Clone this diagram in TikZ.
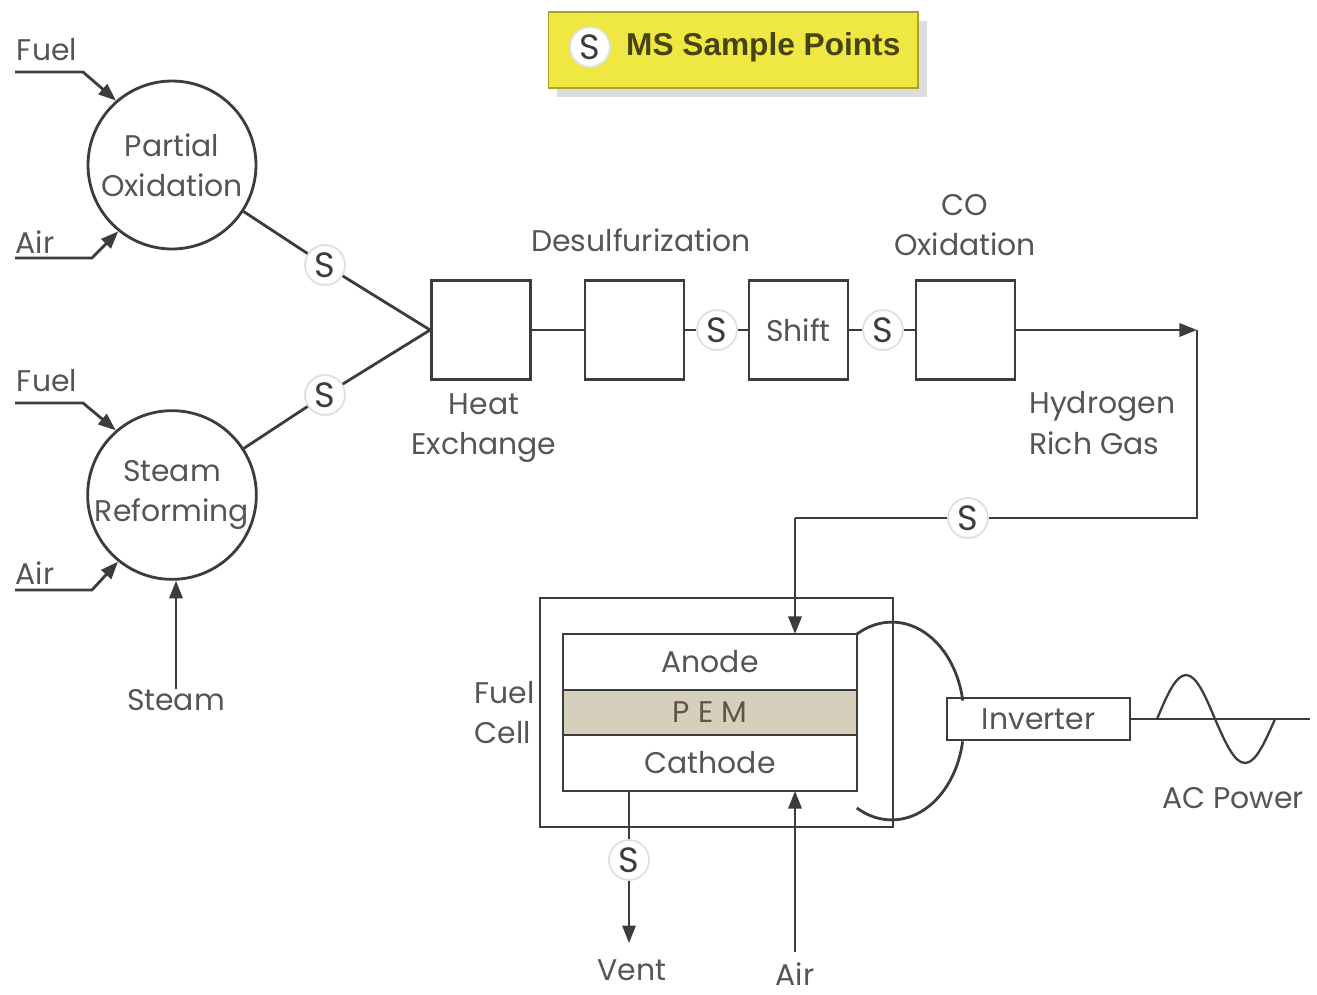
\documentclass[tikz,border=0pt]{standalone}
\usepackage{fontspec}
\setmainfont{Poppins}
\newfontfamily\legendfont{Liberation Sans}
\usetikzlibrary{arrows.meta, positioning, calc, shadows}

\definecolor{linegray}{RGB}{60,60,60}
\definecolor{labelgray}{RGB}{85,85,85}
\definecolor{legendyellow}{RGB}{240,232,66}
\definecolor{legendtext}{RGB}{70,68,18}
\definecolor{pemtan}{RGB}{214,207,188}
\definecolor{pemtext}{RGB}{95,85,65}
\newcommand{\lblfont}{\fontsize{17}{23}\selectfont}

\begin{document}
\begin{tikzpicture}[x=0.02cm, y=-0.02cm,
  pipe/.style={line width=1.6pt, linegray},
  flow/.style={pipe, -{Triangle[length=10pt, width=7.5pt]}},
  unit/.style={draw=linegray, line width=1.6pt, fill=white, minimum width=1.98cm, minimum height=1.98cm, inner sep=0pt, font=\lblfont, text=labelgray},
  reactor/.style={circle, draw=linegray, line width=1.6pt, minimum size=3.36cm, inner sep=0pt, align=center, font=\lblfont, text=labelgray},
  sample/.style={circle, draw=gray!25, line width=1pt, fill=white, minimum size=0.8cm, inner sep=0pt, font=\fontsize{20}{20}\selectfont, text=linegray},
  label/.style={font=\lblfont, text=labelgray, align=center, inner sep=0pt},
  layer/.style={draw=linegray, line width=1.6pt, minimum width=5.88cm, inner sep=0pt, outer sep=0pt, font=\lblfont, text=labelgray}
]
  \useasboundingbox (0,0) rectangle (1317,994);

  % ----- Legend -----
  \node[draw=legendyellow!70!black, line width=0.6pt, fill=legendyellow, minimum width=7.4cm, minimum height=1.52cm,
        drop shadow={shadow xshift=5pt, shadow yshift=-5pt, fill=gray!55}] (legend) at (733,50) {};
  \node[sample] (skey) at (590,47) {S};
  \node[right=0.3cm of skey, font=\legendfont\bfseries\fontsize{18}{18}\selectfont, text=legendtext, inner sep=0pt] (keytext) {MS Sample Points};

  % ----- Reformers -----
  \node[reactor] (po) at (172,165) {Partial\\Oxidation};
  \node[reactor] (sr) at (172,495) {Steam\\Reforming};

  % Feeds
  \node[label] (fuel1) at (47,50) {Fuel};
  \coordinate (fuel1in) at (15,72);
  \draw[flow] (fuel1in) -- ++(68,0) -- (po.131);
  \node[label] (air1) at (35,242) {Air};
  \coordinate (air1in) at (15,258);
  \draw[flow] (air1in) -- ++(77,0) -- (po.231);

  \node[label] (fuel2) at (47,381) {Fuel};
  \coordinate (fuel2in) at (15,403);
  \draw[flow] (fuel2in) -- ++(68,0) -- (sr.131);
  \node[label] (air2) at (35,573) {Air};
  \coordinate (air2in) at (15,590);
  \draw[flow] (air2in) -- ++(77,0) -- (sr.231);

  \node[label] (steam) at (176,700) {Steam};
  \draw[flow] (steam.north) -- (steam.north |- sr.south);

  % ----- Clean-up train -----
  \node[unit] (hx) at (481,330) {};
  \node[unit] (desulf) at (634.5,330) {};
  \node[unit] (shift) at (798.5,330) {Shift};
  \node[unit] (co) at (965.5,330) {};

  \node[label] (hxlbl) at (484,428) {Heat\\Exchange};
  \node[label] (desulflbl) at (641,240) {Desulfurization};
  \node[label] (colbl) at (965,225) {CO\\Oxidation};

  \node[sample] (s1) at (325,265) {S};
  \node[sample] (s2) at (325,395) {S};
  \draw[pipe] (po.-33) -- (s1) -- (hx.west);
  \draw[pipe] (sr.33) -- (s2) -- (hx.west);

  \node[sample] (s3) at (717,330) {S};
  \node[sample] (s4) at (883,330) {S};
  \draw[pipe] (hx) -- (desulf);
  \draw[pipe] (desulf) -- (s3) -- (shift) -- (s4) -- (co);

  % Hydrogen line
  \node[label, align=left, anchor=west] (h2lbl) at (1029,423) {Hydrogen\\Rich Gas};
  \coordinate (h2turn) at (1197,330);
  \coordinate (h2down) at (1197,518);
  \coordinate (h2left) at (795,518);
  \node[sample] (s5) at (968,518) {S};
  \draw[flow] (co) -- (h2turn);
  \draw[pipe] (h2turn) -- (h2down) -- (s5) -- (h2left);

  % ----- Fuel cell -----
  \node[draw=linegray, line width=1.6pt, minimum width=7.06cm, minimum height=4.58cm] (fc) at (716.5,712.5) {};
  \node[layer, minimum height=1.12cm] (anode) at (710,662) {Anode};
  \node[layer, minimum height=0.9cm, fill=pemtan, text=pemtext, below=0pt of anode] (pem) {P E M};
  \node[layer, minimum height=1.12cm, below=0pt of pem] (cathode) {Cathode};
  \node[label, align=left, anchor=east, left=2pt of fc] (fclbl) {Fuel\\Cell};

  \draw[flow] (h2left) -- (h2left |- anode.north);

  % Exhaust and air
  \node[sample] (s6) at (629,860) {S};
  \node[label] (vent) at (632,970) {Vent};
  \draw[pipe] (s6 |- cathode.south) -- (s6);
  \draw[flow] (s6) -- ($(s6 |- vent.north)+(0,-16)$);

  \node[label] (air3) at (795,974) {Air};
  \draw[flow] ($(air3.north)+(0,-10)$) -- (air3 |- cathode.south);

  % ----- Inverter and AC output -----
  \node[draw=linegray, line width=1.6pt, fill=white, minimum width=3.66cm, minimum height=0.84cm, inner sep=0pt, font=\lblfont, text=labelgray] (inv) at (1038.5,719) {Inverter};
  \draw[pipe] (anode.north east) arc[start angle=119, end angle=10, x radius=1.44cm, y radius=1.9cm];
  \draw[pipe] ($(inv.south west)+(17,0)$) arc[start angle=-10, end angle=-119, x radius=1.44cm, y radius=1.9cm];

  \coordinate (acout) at (1310,719);
  \draw[pipe] (inv.east) -- (acout);
  \draw[pipe, line width=1.3pt] (1157,719) sin (1186,675) cos (1215,719) sin (1245,763) cos (1275,719);
  \node[label] (aclbl) at (1233,798) {AC Power};

\end{tikzpicture}
\end{document}
